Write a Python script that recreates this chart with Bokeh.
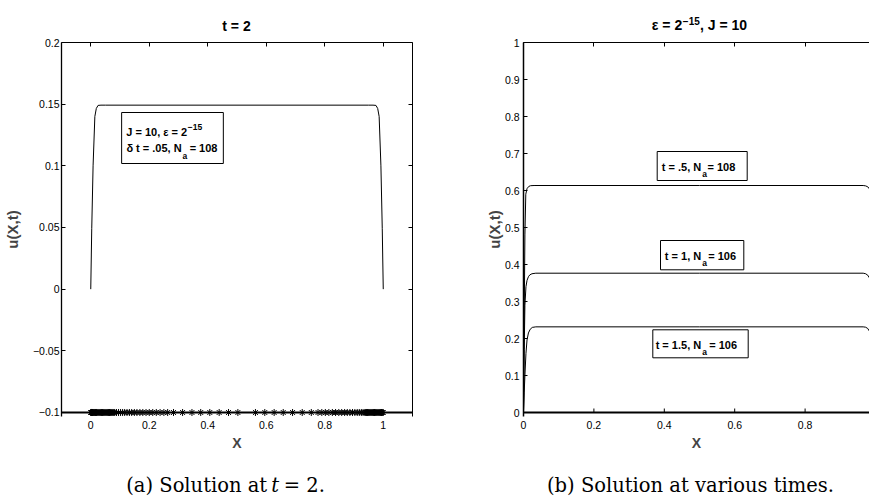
from bokeh.plotting import figure
from bokeh.models import Range1d, LinearAxis, FixedTicker, Label, BoxAnnotation, Span
from bokeh.layouts import row, column
from bokeh.embed import file_html
from bokeh.resources import INLINE

SANS = "Liberation Sans"
SERIF = "DejaVu Serif"

# ---------------- data ----------------
# (a) solution at t = 2
left_x = [0, 0.0034, 0.008, 0.014, 0.019, 0.025, 0.035, 0.05, 0.5, 0.95, 0.965, 0.975, 0.981, 0.986, 0.992, 0.9966, 1.0]
left_u = [0, 0.049, 0.1, 0.14, 0.1465, 0.149, 0.1492, 0.1492, 0.1492, 0.1492, 0.1492, 0.149, 0.1465, 0.14, 0.1, 0.049, 0]

# adaptive mesh points (N_a = 108), drawn at u = -0.1
mesh_level = -0.1
mesh_x = [0, 0.001, 0.002, 0.003, 0.004, 0.005, 0.006, 0.008, 0.010, 0.012, 0.014, 0.016,
          0.018, 0.020, 0.022, 0.025, 0.028, 0.031, 0.034, 0.037, 0.040, 0.043, 0.046, 0.049,
          0.052, 0.055, 0.058, 0.061, 0.064, 0.067, 0.070, 0.073, 0.076, 0.079, 0.082,
          0.088, 0.095, 0.102, 0.109, 0.116, 0.124, 0.132, 0.140, 0.149, 0.158, 0.168, 0.178,
          0.189, 0.200, 0.212, 0.224, 0.237, 0.250, 0.263,
          0.283, 0.314, 0.346, 0.376, 0.407, 0.439, 0.471, 0.503,
          0.563, 0.595, 0.627, 0.658, 0.690, 0.723, 0.754,
          0.777, 0.790, 0.802, 0.814, 0.826, 0.837, 0.848, 0.858, 0.868, 0.877, 0.886, 0.895,
          0.903, 0.911, 0.918, 0.925, 0.931, 0.937,
          0.940, 0.943, 0.946, 0.949, 0.952, 0.955, 0.958, 0.961, 0.964, 0.967, 0.970, 0.973,
          0.976, 0.979, 0.982, 0.985, 0.988, 0.991, 0.994, 0.997, 1.0]

# (b) solution at various times
t05_x = [0, 0.002, 0.004, 0.0065, 0.01, 0.015, 0.02, 0.03, 0.5, 0.965, 0.972, 0.978, 0.984]
t05_u = [0, 0.25, 0.48, 0.59, 0.605, 0.611, 0.613, 0.6135, 0.6135, 0.6135, 0.6125, 0.61, 0.603]
t1_x = [0, 0.002, 0.004, 0.007, 0.01, 0.014, 0.018, 0.024, 0.035, 0.5, 0.965, 0.972, 0.978, 0.984]
t1_u = [0, 0.17, 0.29, 0.34, 0.357, 0.367, 0.372, 0.375, 0.3765, 0.3765, 0.3765, 0.375, 0.371, 0.362]
t15_x = [0, 0.002, 0.004, 0.007, 0.01, 0.014, 0.019, 0.025, 0.035, 0.5, 0.965, 0.972, 0.978, 0.984]
t15_u = [0, 0.055, 0.1, 0.16, 0.196, 0.215, 0.225, 0.23, 0.2315, 0.2315, 0.2315, 0.2305, 0.227, 0.218]

# ticks
left_xticks = [0, 0.2, 0.4, 0.6, 0.8, 1]
left_xtick_labels = ["0", "0.2", "0.4", "0.6", "0.8", "1"]
left_yticks = [-0.1, -0.05, 0, 0.05, 0.1, 0.15, 0.2]
left_ytick_labels = ["\u22120.1", "\u22120.05", "0", "0.05", "0.1", "0.15", "0.2"]
right_xticks = [0, 0.2, 0.4, 0.6, 0.8]
right_xtick_labels = ["0", "0.2", "0.4", "0.6", "0.8"]
right_yticks = [0, 0.1, 0.2, 0.3, 0.4, 0.5, 0.6, 0.7, 0.8, 0.9, 1]
right_ytick_labels = ["0", "0.1", "0.2", "0.3", "0.4", "0.5", "0.6", "0.7", "0.8", "0.9", "1"]

# ---------------- helpers ----------------
def style_axis(ax, ticks, labels=None, line_width=1.0, standoff=2):
    ax.ticker = FixedTicker(ticks=ticks)
    ax.major_tick_in = 4
    ax.major_tick_out = 0
    ax.minor_tick_in = 0
    ax.minor_tick_out = 0
    ax.major_tick_line_color = "black"
    ax.axis_line_color = "black"
    ax.axis_line_width = line_width
    if labels is None:
        ax.major_label_text_color = None
        ax.major_label_text_font_size = "1px"
        ax.major_label_standoff = 0
    else:
        ax.major_label_overrides = {float(t): l for t, l in zip(ticks, labels)}
        ax.major_label_text_font = SANS
        ax.major_label_text_font_size = "10.5px"
        ax.major_label_text_color = "black"
        ax.major_label_standoff = standoff


def put(p, fx, fy, wx, wbase, text, size, align="left", font=SANS, style="bold"):
    # wx, wbase: position in picture pixels (baseline); placed by the em-box middle
    mid = wbase - 0.35 * size
    p.add_layout(Label(x=fx(wx), y=fy(mid), text=text, text_font=font,
                       text_font_size=f"{size}px", text_font_style=style, text_align=align,
                       text_baseline="middle", text_color="black"))


def box(p, l, r, t, b):
    p.add_layout(BoxAnnotation(left=l, right=r, top=t, bottom=b, fill_color="white",
                               fill_alpha=1.0, line_color="black", line_width=1, line_alpha=1.0))


def strip(height):
    return figure(width=869, height=height, x_range=Range1d(0, 869), y_range=Range1d(0, height),
                  x_axis_type=None, y_axis_type=None, output_backend="svg", toolbar_location=None,
                  min_border=0, min_border_left=0, min_border_right=0, min_border_top=0,
                  min_border_bottom=0, outline_line_color=None, background_fill_color="white",
                  border_fill_color="white")

ident = lambda w: w

# ---------------- title strip (picture y 0..38) ----------------
TS_H = 38
ts = strip(TS_H)
tsy = lambda w: TS_H - w
put(ts, ident, tsy, 236.0, 30.0, "t = 2", 14, align="center")
put(ts, ident, tsy, 681.7, 29.3, "\u03b5 = 2", 14, align="right")
put(ts, ident, tsy, 682.3, 24.0, "\u221215", 10)
put(ts, ident, tsy, 699.5, 29.3, ", J = 10", 14)

# ---------------- panels: frames at picture y 42..416 ----------------
ROW_H = 430
BORDER_TOP, BORDER_BOTTOM = 4, 52

# left panel (picture x 0..440)
def lx(w):
    return -0.1 + (w - 60.0) / 352.0 * 1.2
def ly(w):
    return 0.2 - (w - 42.0) / 1233.33

p1 = figure(width=440, height=ROW_H, x_range=Range1d(-0.1, 1.1), y_range=Range1d(ly(416), 0.2),
            x_axis_type=None, y_axis_type=None, output_backend="svg", toolbar_location=None,
            min_border_left=60, min_border_right=28, min_border_top=BORDER_TOP,
            min_border_bottom=BORDER_BOTTOM,
            outline_line_color=None, background_fill_color="white", border_fill_color="white")

ax = LinearAxis()
style_axis(ax, left_xticks, left_xtick_labels, standoff=4)
ax.axis_line_color = None
ax.major_tick_in = 0
ax.axis_label = "X"
ax.axis_label_text_font = SANS
ax.axis_label_text_font_style = "bold"
ax.axis_label_text_font_size = "14px"
ax.axis_label_standoff = 3
p1.add_layout(ax, "below")

ay = LinearAxis()
style_axis(ay, left_yticks, left_ytick_labels, line_width=1.3, standoff=2)
ay.axis_label = "u(X,t)"
ay.axis_label_text_font = SANS
ay.axis_label_text_font_style = "bold"
ay.axis_label_text_font_size = "15px"
ay.axis_label_standoff = 9
p1.add_layout(ay, "left")

at = LinearAxis()
style_axis(at, left_xticks)
p1.add_layout(at, "above")
ar = LinearAxis()
style_axis(ar, left_yticks)
p1.add_layout(ar, "right")

p1.line(left_x, left_u, line_color="black", line_width=1)
p1.scatter(mesh_x, [mesh_level] * len(mesh_x), marker="asterisk", size=7,
           line_color="black", line_width=1)
p1.add_layout(Span(location=mesh_level, dimension="width", line_color="black", line_width=2))

# annotation box
box(p1, lx(120.3), lx(222.3), ly(112), ly(163))
put(p1, lx, ly, 186.0, 135.0, "J = 10, \u03b5 = 2", 11, align="right")
put(p1, lx, ly, 186.6, 129.5, "\u221215", 8.5)
put(p1, lx, ly, 180.5, 151.7, "\u03b4 t = .05, N", 11, align="right")
put(p1, lx, ly, 181.3, 158.0, "a", 8.5)
put(p1, lx, ly, 188.5, 151.7, "= 108", 11)

# right panel (picture x 440..869)
def rx(w):
    return (w - 523.0) / 352.0
def ry(w):
    return (412.0 - w) / 370.0

p2 = figure(width=429, height=ROW_H, x_range=Range1d(0, rx(869)), y_range=Range1d(ry(416), 1),
            x_axis_type=None, y_axis_type=None, output_backend="svg", toolbar_location=None,
            min_border_left=83, min_border_right=0, min_border_top=BORDER_TOP,
            min_border_bottom=BORDER_BOTTOM,
            outline_line_color=None, background_fill_color="white", border_fill_color="white")

bx = LinearAxis()
style_axis(bx, right_xticks, right_xtick_labels, standoff=4)
bx.axis_line_color = None
bx.major_tick_in = 0
bx.axis_label = "X"
bx.axis_label_text_font = SANS
bx.axis_label_text_font_style = "bold"
bx.axis_label_text_font_size = "14px"
bx.axis_label_standoff = 3
p2.add_layout(bx, "below")

by = LinearAxis()
style_axis(by, right_yticks, right_ytick_labels, line_width=1.5, standoff=4)
by.axis_label = "u(X,t)"
by.axis_label_text_font = SANS
by.axis_label_text_font_style = "bold"
by.axis_label_text_font_size = "15px"
by.axis_label_standoff = -1
p2.add_layout(by, "left")

bt = LinearAxis()
style_axis(bt, right_xticks)
p2.add_layout(bt, "above")

# bottom axis line at u = 0 with short inward ticks
p2.add_layout(Span(location=0, dimension="width", line_color="black", line_width=2))
p2.segment(x0=right_xticks, y0=[0] * len(right_xticks), x1=right_xticks,
           y1=[ry(408)] * len(right_xticks), line_color="black", line_width=1)

p2.line(t05_x, t05_u, line_color="black", line_width=1)
p2.line(t1_x, t1_u, line_color="black", line_width=1)
p2.line(t15_x, t15_u, line_color="black", line_width=1)

# boxed labels
box(p2, rx(656.7), rx(746.7), ry(151), ry(180))
put(p2, rx, ry, 700.7, 170.0, "t = .5, N", 11, align="right")
put(p2, rx, ry, 701.7, 176.7, "a", 8.5)
put(p2, rx, ry, 707.0, 170.0, "= 108", 11)

box(p2, rx(660.0), rx(743.3), ry(240), ry(269.3))
put(p2, rx, ry, 700.7, 259.0, "t = 1, N", 11, align="right")
put(p2, rx, ry, 701.7, 265.7, "a", 8.5)
put(p2, rx, ry, 707.7, 259.0, "= 106", 11)

box(p2, rx(652.3), rx(747.7), ry(329.3), ry(357.3))
put(p2, rx, ry, 700.7, 348.3, "t = 1.5, N", 11, align="right")
put(p2, rx, ry, 701.7, 354.0, "a", 8.5)
put(p2, rx, ry, 708.7, 348.3, "= 106", 11)

# ---------------- caption strip (picture y 468..498) ----------------
cs = strip(30)
csy = lambda w: 498 - w
put(cs, ident, csy, 266.7, 491.5, "(a) Solution at", 19.5, align="right", font=SERIF, style="normal")
put(cs, ident, csy, 270.7, 491.5, "t", 19.5, font=SERIF, style="italic")
put(cs, ident, csy, 283.3, 491.5, "= 2.", 19.5, font=SERIF, style="normal")
put(cs, ident, csy, 690.0, 491.5, "(b) Solution at various times.", 19.5, align="center",
    font=SERIF, style="normal")

layout = column(ts, row(p1, p2), cs)
open("out.html", "w").write(file_html(layout, INLINE))
